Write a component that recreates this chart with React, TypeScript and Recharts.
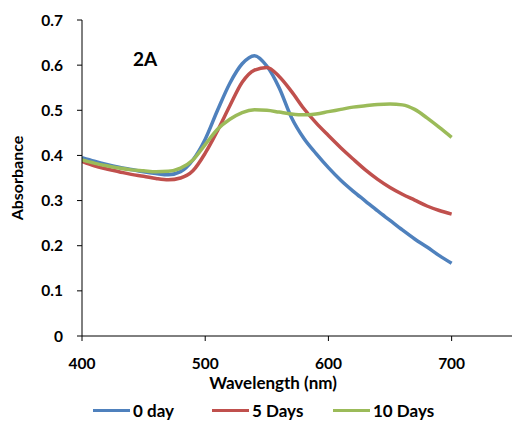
import { LineChart, Line, XAxis, YAxis, Label } from 'recharts'

// wavelength (nm)
const wavelengths = [
  400, 410, 420, 430, 440, 450, 460, 470, 480, 490, 500, 510, 520, 530, 540, 550,
  560, 570, 580, 590, 600, 610, 620, 630, 640, 650, 660, 670, 680, 690, 700,
]

const day0 = [
  0.395, 0.387, 0.38, 0.374, 0.369, 0.364, 0.36, 0.357, 0.364, 0.39, 0.436, 0.5,
  0.56, 0.603, 0.621, 0.598, 0.55, 0.484, 0.438, 0.404, 0.373, 0.345, 0.321, 0.299,
  0.277, 0.256, 0.235, 0.215, 0.197, 0.178, 0.161,
]

const days5 = [
  0.387, 0.377, 0.37, 0.364, 0.358, 0.354, 0.349, 0.346, 0.35, 0.366, 0.405, 0.455,
  0.51, 0.562, 0.589, 0.595, 0.575, 0.542, 0.504, 0.472, 0.444, 0.417, 0.392, 0.368,
  0.347, 0.329, 0.314, 0.301, 0.288, 0.278, 0.27,
]

const days10 = [
  0.39, 0.383, 0.377, 0.372, 0.368, 0.366, 0.364, 0.365, 0.372, 0.39, 0.424, 0.458,
  0.48, 0.495, 0.501, 0.5, 0.496, 0.492, 0.49, 0.492, 0.497, 0.502, 0.507, 0.51,
  0.513, 0.514, 0.512, 0.502, 0.483, 0.462, 0.44,
]

const xTicks = [400, 500, 600, 700]
const yTicks = [0, 0.1, 0.2, 0.3, 0.4, 0.5, 0.6, 0.7]

const series = [
  { key: 'day0', name: '0 day', color: '#4F81BD', left: 93 },
  { key: 'days5', name: '5 Days', color: '#C0504D', left: 212 },
  { key: 'days10', name: '10 Days', color: '#9BBB59', left: 333 },
]

const data = wavelengths.map((w, i) => ({
  wl: w,
  day0: day0[i],
  days5: days5[i],
  days10: days10[i],
}))

const FONT = 'Lato, "Open Sans", sans-serif'
const tickStyle = { fontSize: 15.5, fontWeight: 700, fill: '#000', fontFamily: FONT }

const App = () => {
  return (
    <div
      style={{
        position: 'absolute',
        left: 0,
        top: 0,
        width: 512,
        height: 423,
        overflow: 'hidden',
        background: '#fff',
        fontFamily: FONT,
        color: '#000',
      }}
    >
      <LineChart
        width={512}
        height={423}
        data={data}
        margin={{ top: 20, right: 0, bottom: 57, left: 0 }}
      >
        <XAxis
          dataKey="wl"
          type="number"
          domain={[400, 749]}
          ticks={xTicks}
          allowDataOverflow
          stroke="#000"
          tickLine={{ stroke: '#000' }}
          tickSize={5}
          tickMargin={17}
          height={30}
          tick={tickStyle}
        />
        <YAxis
          type="number"
          domain={[0, 0.7]}
          ticks={yTicks}
          width={82}
          stroke="#000"
          tickSize={5}
          tickMargin={14}
          tick={tickStyle}
          tickFormatter={(v: number) => String(Math.round(v * 10) / 10)}
        >
          <Label
            value="Absorbance"
            angle={-90}
            position="insideLeft"
            offset={17}
            style={{ fontSize: 16, fontWeight: 700, fill: '#000', fontFamily: FONT, textAnchor: 'middle' }}
          />
        </YAxis>
        {series.map((s) => (
          <Line
            key={s.key}
            type="monotone"
            dataKey={s.key}
            name={s.name}
            stroke={s.color}
            strokeWidth={3.5}
            dot={false}
            isAnimationActive={false}
          />
        ))}
      </LineChart>

      <div
        style={{
          position: 'absolute',
          left: 133,
          top: 47,
          fontSize: 19,
          fontWeight: 700,
        }}
      >
        2A
      </div>

      <div
        style={{
          position: 'absolute',
          left: 173,
          width: 200,
          top: 372,
          textAlign: 'center',
          fontSize: 17,
          fontWeight: 700,
        }}
      >
        Wavelength (nm)
      </div>

      {series.map((s) => (
        <div
          key={s.key}
          style={{
            position: 'absolute',
            left: s.left,
            top: 400,
            display: 'flex',
            alignItems: 'center',
            fontSize: 17,
            fontWeight: 700,
          }}
        >
          <span
            style={{ display: 'inline-block', width: 37, height: 3, background: s.color, marginRight: 3 }}
          />
          <span>{s.name}</span>
        </div>
      ))}
    </div>
  )
}

export default App
